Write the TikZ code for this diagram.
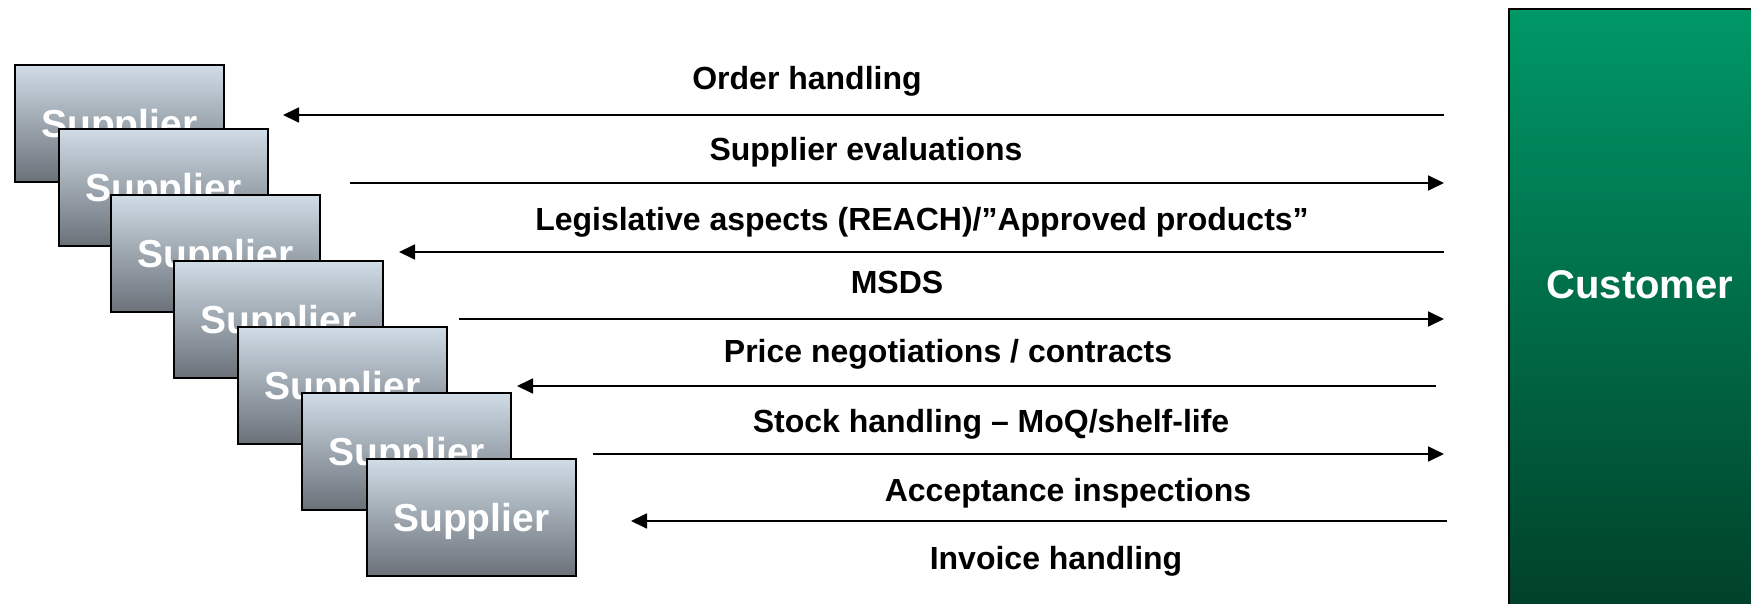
\documentclass[tikz,border=0pt]{standalone}
\usepackage{fontspec}
\setmainfont{Liberation Sans}
\usetikzlibrary{arrows.meta}
\definecolor{supTop}{RGB}{208,220,230}
\definecolor{supBot}{RGB}{106,113,121}
\definecolor{custTop}{RGB}{0,152,103}
\definecolor{custBot}{RGB}{0,62,39}
\begin{document}
\begin{tikzpicture}[x=1pt,y=-1pt,
  supplier/.style={draw=black, line width=1.6pt, top color=supTop, bottom color=supBot,
    minimum width=209pt, minimum height=117pt, anchor=north west, inner sep=0pt,
    text height=28pt, text depth=0pt,
    text=white, font=\fontsize{39}{44}\selectfont\bfseries},
  customer/.style={draw=black, line width=1.6pt, top color=custTop, bottom color=custBot,
    minimum width=260pt, minimum height=620pt, anchor=north west, inner sep=0pt},
  custlabel/.style={text=white, font=\fontsize{40}{46}\selectfont\bfseries, inner sep=0pt},
  flowlabel/.style={anchor=base, inner sep=0pt, font=\fontsize{32}{38}\selectfont\bfseries},
  flow/.style={line width=1.8pt, -{Triangle[length=16pt,width=15pt]}}
]
\useasboundingbox (0,0) rectangle (1751,604);

% suppliers
\node[supplier] (s1) at (14,64) {Supplier};
\node[supplier] (s2) at (58,128) {Supplier};
\node[supplier] (s3) at (110,194) {Supplier};
\node[supplier] (s4) at (173,260) {Supplier};
\node[supplier] (s5) at (237,326) {Supplier};
\node[supplier] (s6) at (301,392) {Supplier};
\node[supplier] (s7) at (366,458) {Supplier};

% customer
\node[customer] (cust) at (1508,8) {};
\node[custlabel] (custtxt) at (1640,285) {Customer};

% arrow end points
\coordinate (a1r) at (1444,115); \coordinate (a1l) at (283,115);
\coordinate (a2l) at (350,183);  \coordinate (a2r) at (1444,183);
\coordinate (a3r) at (1444,252); \coordinate (a3l) at (399,252);
\coordinate (a4l) at (459,319);  \coordinate (a4r) at (1444,319);
\coordinate (a5r) at (1436,386); \coordinate (a5l) at (517,386);
\coordinate (a6l) at (593,454);  \coordinate (a6r) at (1444,454);
\coordinate (a7r) at (1447,521); \coordinate (a7l) at (631,521);

\draw[flow] (a1r) -- (a1l);
\draw[flow] (a2l) -- (a2r);
\draw[flow] (a3r) -- (a3l);
\draw[flow] (a4l) -- (a4r);
\draw[flow] (a5r) -- (a5l);
\draw[flow] (a6l) -- (a6r);
\draw[flow] (a7r) -- (a7l);

% labels
\node[flowlabel] (t1) at (807,90) {Order handling};
\node[flowlabel] (t2) at (866,161) {Supplier evaluations};
\node[flowlabel] (t3) at (922,231) {Legislative aspects (REACH)/”Approved products”};
\node[flowlabel] (t4) at (897,293) {MSDS};
\node[flowlabel] (t5) at (948,362) {Price negotiations / contracts};
\node[flowlabel] (t6) at (991,432) {Stock handling – MoQ/shelf-life};
\node[flowlabel] (t7) at (1068,501) {Acceptance inspections};
\node[flowlabel] (t8) at (1056,569) {Invoice handling};
\end{tikzpicture}
\end{document}
